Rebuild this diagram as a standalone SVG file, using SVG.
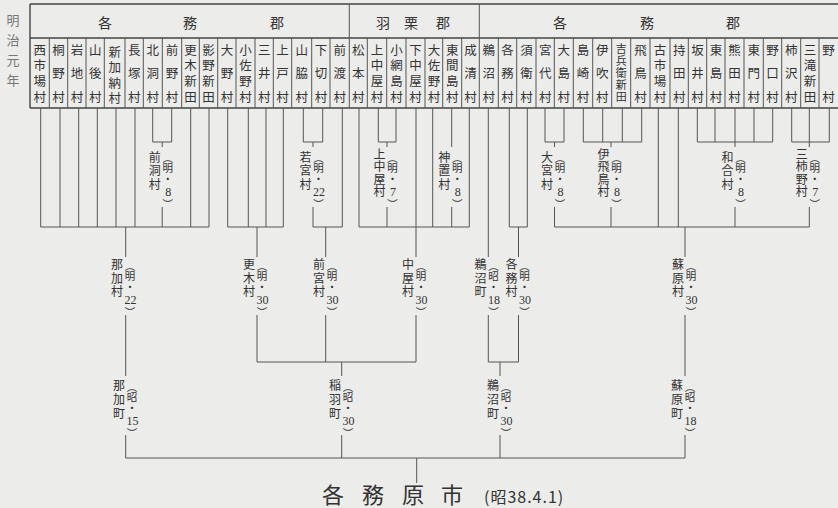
<svg xmlns="http://www.w3.org/2000/svg" width="838" height="508" viewBox="0 0 838 508">
<style>
text{font-family:"Noto Sans CJK JP","Noto Sans CJK SC",sans-serif;fill:#333;text-anchor:middle;dominant-baseline:central}
.vt{writing-mode:vertical-rl;text-anchor:start}
.c{font-size:12.5px}
.c3{letter-spacing:11px}
.c4{letter-spacing:3.2px}
.c2{letter-spacing:34.5px}
.c5{font-size:11px;letter-spacing:1px}
.h{font-size:14px}
.m{font-size:12px;letter-spacing:1.5px}
.m4{font-size:12px;letter-spacing:0.5px}
.m3b{font-size:12px;letter-spacing:2px}
.a{font-size:10.5px}
.n{font-family:"Liberation Serif",serif;font-size:12px}
.y{font-size:13px;fill:#777;letter-spacing:7px}
.big{font-size:22px}
.sub{font-size:16px;text-anchor:start;letter-spacing:1px}
.ln{fill:none;stroke:#555;stroke-width:1}
.bd{fill:none;stroke:#444;stroke-width:1.4}
</style>
<rect width="838" height="508" fill="#ececea"/>
<g id="era-label"><text class="vt y" x="13" y="13.5">明治元年</text></g>
<g id="table">
<path class="bd" d="M30 4H838M30 4V108M30 108H838M30 38H838"/>
<path class="ln" d="M349.3 4V38M479.3 4V38M49.3 38V108M67.7 38V108M86 38V108M104.3 38V108M125 38V108M143.3 38V108M162.3 38V108M181.7 38V108M199.3 38V108M217.7 38V108M236 38V108M255 38V108M273.3 38V108M291.7 38V108M311.7 38V108M330 38V108M349.3 38V108M367.3 38V108M386.7 38V108M406 38V108M425 38V108M442.7 38V108M461.7 38V108M479.3 38V108M498.3 38V108M516.7 38V108M536 38V108M554.3 38V108M573.3 38V108M592.7 38V108M611.7 38V108M630.7 38V108M650 38V108M670 38V108M688.3 38V108M706.7 38V108M725 38V108M744 38V108M763.3 38V108M781.7 38V108M800.7 38V108M819 38V108"/>
</g>
<g id="gun1"><text class="h"><tspan x="105" y="22">各</tspan><tspan x="190" y="22">務</tspan><tspan x="277" y="22">郡</tspan></text></g>
<g id="gun2"><text class="h"><tspan x="383" y="22">羽</tspan><tspan x="411" y="22">栗</tspan><tspan x="443" y="22">郡</tspan></text></g>
<g id="gun3"><text class="h"><tspan x="560" y="22">各</tspan><tspan x="647" y="22">務</tspan><tspan x="733" y="22">郡</tspan></text></g>
<g id="villages">
<g id="v01"><text class="vt c c4" x="39.7" y="43.75">西市場村</text></g>
<g id="v02"><text class="vt c c3" x="58.5" y="43.75">桐野村</text></g>
<g id="v03"><text class="vt c c3" x="76.9" y="43.75">岩地村</text></g>
<g id="v04"><text class="vt c c3" x="95.2" y="43.75">山後村</text></g>
<g id="v05"><text class="vt c" x="114.7" y="45.75" style="letter-spacing:3px">新加納村</text></g>
<g id="v06"><text class="vt c c3" x="134.2" y="43.75">長塚村</text></g>
<g id="v07"><text class="vt c c3" x="152.8" y="43.75">北洞村</text></g>
<g id="v08"><text class="vt c c3" x="172" y="43.75">前野村</text></g>
<g id="v09"><text class="vt c c4" x="190.5" y="43.75">更木新田</text></g>
<g id="v10"><text class="vt c c4" x="208.5" y="43.75">影野新田</text></g>
<g id="v11"><text class="vt c c3" x="226.9" y="43.75">大野村</text></g>
<g id="v12"><text class="vt c c4" x="245.5" y="43.75">小佐野村</text></g>
<g id="v13"><text class="vt c c3" x="264.2" y="43.75">三井村</text></g>
<g id="v14"><text class="vt c c3" x="282.5" y="43.75">上戸村</text></g>
<g id="v15"><text class="vt c c3" x="301.7" y="43.75">山脇村</text></g>
<g id="v16"><text class="vt c c3" x="320.9" y="43.75">下切村</text></g>
<g id="v17"><text class="vt c c3" x="339.7" y="43.75">前渡村</text></g>
<g id="v18"><text class="vt c c3" x="358.3" y="43.75">松本村</text></g>
<g id="v19"><text class="vt c c4" x="377" y="43.75">上中屋村</text></g>
<g id="v20"><text class="vt c c4" x="396.4" y="43.75">小網島村</text></g>
<g id="v21"><text class="vt c c4" x="415.5" y="43.75">下中屋村</text></g>
<g id="v22"><text class="vt c c4" x="433.9" y="43.75">大佐野村</text></g>
<g id="v23"><text class="vt c c4" x="452.2" y="43.75">東間島村</text></g>
<g id="v24"><text class="vt c c3" x="470.5" y="43.75">成清村</text></g>
<g id="v25"><text class="vt c c3" x="488.8" y="43.75">鵜沼村</text></g>
<g id="v26"><text class="vt c c3" x="507.5" y="43.75">各務村</text></g>
<g id="v27"><text class="vt c c3" x="526.4" y="43.75">須衛村</text></g>
<g id="v28"><text class="vt c c3" x="545.2" y="43.75">宮代村</text></g>
<g id="v29"><text class="vt c c3" x="563.8" y="43.75">大島村</text></g>
<g id="v30"><text class="vt c c3" x="583" y="43.75">島崎村</text></g>
<g id="v31"><text class="vt c c3" x="602.2" y="43.75">伊吹村</text></g>
<g id="v32"><text class="vt c5" x="621.2" y="43.5">吉兵衛新田</text></g>
<g id="v33"><text class="vt c c3" x="640.4" y="43.75">飛鳥村</text></g>
<g id="v34"><text class="vt c c4" x="660" y="43.75">古市場村</text></g>
<g id="v35"><text class="vt c c3" x="679.2" y="43.75">持田村</text></g>
<g id="v36"><text class="vt c c3" x="697.5" y="43.75">坂井村</text></g>
<g id="v37"><text class="vt c c3" x="715.9" y="43.75">東島村</text></g>
<g id="v38"><text class="vt c c3" x="734.5" y="43.75">熊田村</text></g>
<g id="v39"><text class="vt c c3" x="753.7" y="43.75">東門村</text></g>
<g id="v40"><text class="vt c c3" x="772.5" y="43.75">野口村</text></g>
<g id="v41"><text class="vt c c3" x="791.2" y="43.75">柿沢村</text></g>
<g id="v42"><text class="vt c c4" x="809.9" y="43.75">三滝新田</text></g>
<g id="v43"><text class="vt c c2" x="828.5" y="43.75">野村</text></g>
</g>
<g id="connectors">
<path class="ln" d="M40.7 108V227M60 108V227M78.7 108V227M97.3 108V227M116 108V227M135 108V227M190.7 108V227M209 108V227M152.7 108V142M171.7 108V142M152.7 142H171.7M162.2 142V147M162.2 207V227M40.7 227H209M125.7 227V257M125.7 315V376M125.7 435V458
M227.7 108V227M248.3 108V227M266 108V227M283.3 108V227M227.7 227H283.3M257 227V257M257 315V362
M303.3 108V142M322.7 108V142M303.3 142H322.7M313 142V147M313 207V227M342.3 108V227M313 227H342.3M325.7 227V257M325.7 315V362
M359 108V227M378.3 108V142M396 108V142M378.3 142H396M387 142V147M387 207V227M416 108V257M432.7 108V227M451.7 108V147M451.7 207V227M469.3 108V227M359 227H469.3M416 315V362M257 362H416M341.7 362V376M341.7 435V458
M488.3 108V257M488.3 315V362M509.3 108V227M527.3 108V227M509.3 227H527.3M518.5 227V257M518.5 315V362M488.3 362H518.5M500 362V376M500 435V458
M545 108V142M564 108V142M545 142H564M554.5 142V147M554.5 207V227M583.3 108V142M602.7 108V142M622.3 108V142M641.7 108V142M583.3 142H641.7M611 142V147M611 207V227M658.3 108V227M678.3 108V227M697.3 108V142M715 108V142M735 108V147M754 108V142M772.7 108V142M697.3 142H772.7M735 207V227M791.7 108V142M809.3 108V147M829.3 108V142M791.7 142H829.3M809.3 207V227M554.5 227H809.3M685 227V257M685 315V376M685 435V458
M125.7 458H685M416.7 458V483"/>
</g>
<g id="n-maebora"><text class="vt m" x="154.7" y="151">前洞村</text><text class="vt a" x="167.7" y="152.5">︵明・</text><text class="n" x="168.2" y="191.5">8</text><text class="vt a" x="167.7" y="199">︶</text></g>
<g id="n-wakamiya"><text class="vt m" x="305.5" y="151">若宮村</text><text class="vt a" x="318.5" y="152.5">︵明・</text><text class="n" x="319" y="191.5">22</text><text class="vt a" x="318.5" y="199">︶</text></g>
<g id="n-kaminakaya"><text class="vt m4" x="379.5" y="148">上中屋村</text><text class="vt a" x="392.5" y="152.5">︵明・</text><text class="n" x="393" y="191.5">7</text><text class="vt a" x="392.5" y="199">︶</text></g>
<g id="n-kamioki"><text class="vt m" x="444.2" y="151">神置村</text><text class="vt a" x="457.2" y="152.5">︵明・</text><text class="n" x="457.7" y="191.5">8</text><text class="vt a" x="457.2" y="199">︶</text></g>
<g id="n-omiya"><text class="vt m" x="547" y="151">大宮村</text><text class="vt a" x="560" y="152.5">︵明・</text><text class="n" x="560.5" y="191.5">8</text><text class="vt a" x="560" y="199">︶</text></g>
<g id="n-iasuka"><text class="vt m4" x="603.5" y="148">伊飛鳥村</text><text class="vt a" x="616.5" y="152.5">︵明・</text><text class="n" x="617" y="191.5">8</text><text class="vt a" x="616.5" y="199">︶</text></g>
<g id="n-wago"><text class="vt m" x="727.5" y="151">和合村</text><text class="vt a" x="740.5" y="152.5">︵明・</text><text class="n" x="741" y="191.5">8</text><text class="vt a" x="740.5" y="199">︶</text></g>
<g id="n-mikakino"><text class="vt m4" x="801.8" y="148">三柿野村</text><text class="vt a" x="814.8" y="152.5">︵明・</text><text class="n" x="815.3" y="191.5">7</text><text class="vt a" x="814.8" y="199">︶</text></g>
<g id="n-naka-mura"><text class="vt m" x="117" y="258.5">那加村</text><text class="vt a" x="130" y="260.5">︵明・</text><text class="n" x="130.5" y="299.5">22</text><text class="vt a" x="130" y="307">︶</text></g>
<g id="n-saragi"><text class="vt m" x="249" y="258.5">更木村</text><text class="vt a" x="262" y="260.5">︵明・</text><text class="n" x="262.5" y="299.5">30</text><text class="vt a" x="262" y="307">︶</text></g>
<g id="n-maemiya"><text class="vt m" x="319" y="258.5">前宮村</text><text class="vt a" x="332" y="260.5">︵明・</text><text class="n" x="332.5" y="299.5">30</text><text class="vt a" x="332" y="307">︶</text></g>
<g id="n-nakaya"><text class="vt m" x="408" y="258.5">中屋村</text><text class="vt a" x="421" y="260.5">︵明・</text><text class="n" x="421.5" y="299.5">30</text><text class="vt a" x="421" y="307">︶</text></g>
<g id="n-unuma18"><text class="vt m" x="480.5" y="258.5">鵜沼町</text><text class="vt a" x="493.5" y="260.5">︵昭・</text><text class="n" x="494" y="299.5">18</text><text class="vt a" x="493.5" y="307">︶</text></g>
<g id="n-kakami"><text class="vt m" x="511.5" y="258.5">各務村</text><text class="vt a" x="524.5" y="260.5">︵明・</text><text class="n" x="525" y="299.5">30</text><text class="vt a" x="524.5" y="307">︶</text></g>
<g id="n-sohara-mura"><text class="vt m" x="678" y="258.5">蘇原村</text><text class="vt a" x="691" y="260.5">︵明・</text><text class="n" x="691.5" y="299.5">30</text><text class="vt a" x="691" y="307">︶</text></g>
<g id="n-naka-machi"><text class="vt m3b" x="119" y="379">那加町</text><text class="vt a" x="132" y="381.5">︵昭・</text><text class="n" x="132.5" y="420.5">15</text><text class="vt a" x="132" y="428">︶</text></g>
<g id="n-inaba"><text class="vt m3b" x="335" y="379">稲羽町</text><text class="vt a" x="348" y="381.5">︵昭・</text><text class="n" x="348.5" y="420.5">30</text><text class="vt a" x="348" y="428">︶</text></g>
<g id="n-unuma30"><text class="vt m3b" x="493" y="379">鵜沼町</text><text class="vt a" x="506" y="381.5">︵昭・</text><text class="n" x="506.5" y="420.5">30</text><text class="vt a" x="506" y="428">︶</text></g>
<g id="n-sohara-machi"><text class="vt m3b" x="677" y="379">蘇原町</text><text class="vt a" x="690" y="381.5">︵昭・</text><text class="n" x="690.5" y="420.5">18</text><text class="vt a" x="690" y="428">︶</text></g>
<g id="n-city"><text class="big"><tspan x="333" y="493">各</tspan><tspan x="373" y="493">務</tspan><tspan x="413" y="493">原</tspan><tspan x="452" y="493">市</tspan></text><text class="sub" x="484" y="496">(昭38.4.1)</text></g>
</svg>
